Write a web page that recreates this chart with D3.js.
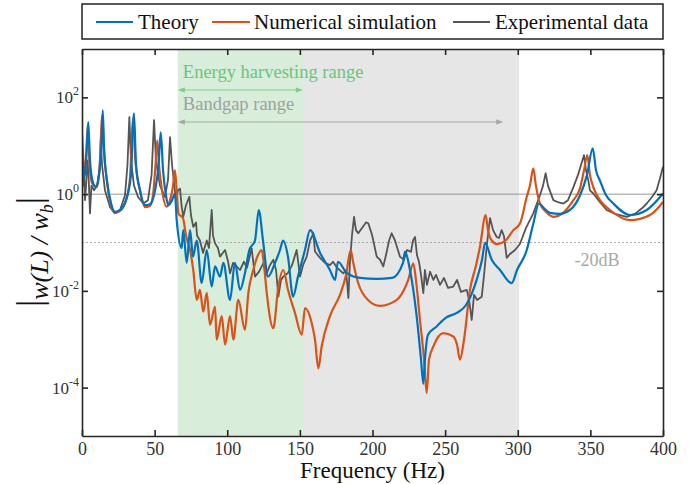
<!DOCTYPE html>
<html><head><meta charset="utf-8">
<script src="https://cdn.jsdelivr.net/npm/d3@7"></script>
<style>
body{margin:0;background:#fff}
svg{display:block}
svg text{font-family:"Liberation Serif","DejaVu Serif","Times New Roman",Times,serif !important}
</style>
</head><body>
<svg id="c" width="699" height="484"></svg>
<script>
// ---------- data ----------
const xTicks = [0, 50, 100, 150, 200, 250, 300, 350, 400];
const yTicks = [1e-4, 1e-2, 1, 1e2];
const yTickExp = ["-4", "-2", "0", "2"];
const seriesNames = ["Theory", "Numerical simulation", "Experimental data"];
const bandgapRange = [66, 301];
const harvestRange = [66, 152];
const bandgapArrow = [66, 290];
const harvestArrow = [66, 152];
const unityLevel = 1;
const minus20dBLevel = 0.1;

const theory = [[0,8.1],[1.7,2.3],[3.4,10],[4.3,31],[5.5,5.0],[7.6,1.7],[9.6,1.4],[11.7,2.5],[13.4,10],[14.3,54],[15.1,10],[17.2,1.9],[20.0,0.65],[22.7,0.43],[26.2,0.47],[30.3,0.75],[33.7,2.5],[35.8,47],[37.2,4.0],[39.9,1.2],[43.4,0.59],[46.8,0.62],[50.3,1.2],[52.7,4.0],[54.2,19],[55.8,3.1],[57.8,0.95],[59.4,0.59],[62.0,0.75],[64.0,1.03],[65.2,0.29],[68.6,0.077],[69.7,0.18],[72.1,0.038],[74.4,0.18],[76.4,0.051],[79.0,0.11],[82.4,0.0146],[85.9,0.070],[89.3,0.0123],[91.6,0.032],[95.0,0.0197],[97.3,0.038],[101.9,0.0065],[105.3,0.038],[108.8,0.0105],[112.2,0.0235],[115.2,0.070],[119.1,0.11],[121.7,0.47],[124.6,0.11],[128.1,0.0197],[132.9,0.038],[136.3,0.070],[138.4,0.11],[141.8,0.051],[145.3,0.0076],[148.7,0.0197],[153.5,0.070],[157.0,0.18],[163.9,0.061],[170.7,0.027],[174.2,0.0169],[176.2,0.040],[182.2,0.0235],[191.4,0.0185],[202.9,0.0177],[213.4,0.0185],[221.0,0.038],[222.4,0.065],[225.8,0.027],[230.4,0.0030],[233.4,3.8e-4],[235.0,1.2e-4],[236.1,3.8e-4],[238.2,1.24e-3],[244.2,1.84e-3],[250.6,2.8e-3],[258.0,3.5e-3],[264.4,5.1e-3],[271.7,0.0169],[275.4,0.044],[277.5,0.098],[282.1,0.044],[287.8,0.027],[295.8,0.0144],[299.5,0.027],[306.2,0.070],[310.5,0.23],[314.6,0.64],[318.1,0.51],[322.2,0.41],[329.1,0.39],[336.0,0.47],[342.9,0.95],[347.7,2.5],[351.6,8.8],[353.9,3.1],[356.6,1.9],[360.8,0.95],[365.8,0.64],[377.3,0.37],[388.8,0.47],[400,1.03]];

const simulation = [[0,18],[1.0,5.0],[2.1,2.7],[4.0,26],[5.2,4.0],[6.9,1.7],[10.1,1.4],[12.0,3.1],[14.0,43],[15.1,8.1],[17.2,1.8],[20.0,0.59],[22.7,0.41],[26.2,0.45],[30.3,0.75],[33.0,2.1],[35.3,37],[36.8,5.0],[39.9,1.2],[43.4,0.54],[46.8,0.57],[48.9,0.95],[50.6,4.0],[51.8,13],[53.0,4.0],[55.1,1.2],[58.3,0.55],[60.6,0.75],[62.7,1.5],[64.0,3.1],[65.4,0.95],[66.3,0.40],[69.5,0.32],[71.6,0.14],[74.4,0.070],[76.6,0.027],[79.0,0.0065],[81.2,0.0105],[83.5,0.0037],[85.9,0.0091],[88.1,0.0020],[91.6,0.0047],[92.7,9.8e-4],[96.2,0.0030],[98.5,7.7e-4],[101.9,0.0030],[104.2,9.8e-4],[107.6,0.0065],[112.2,0.00157],[114.5,0.0090],[117.9,0.027],[121.2,0.055],[123.7,0.070],[125.3,0.034],[127.2,0.0090],[131.7,0.0017],[135.2,0.0123],[138.6,0.027],[141.8,0.0105],[146.6,0.0035],[151.3,0.00124],[153.5,0.0044],[158.1,0.0022],[160.4,9.8e-4],[162.7,2.5e-4],[165.0,7.1e-4],[170.7,0.0030],[177.6,0.0083],[181.8,0.0214],[185.0,0.070],[186.6,0.040],[190.2,0.0144],[196.9,0.0065],[205.2,0.0049],[216.7,0.0065],[221.7,0.0105],[224.6,0.0169],[228.1,0.037],[229.9,0.0169],[232.7,0.0025],[235.5,3.8e-4],[237.3,7.8e-5],[238.9,3.8e-4],[241.9,7.1e-4],[248.7,0.00134],[255.6,0.00114],[258.2,7.7e-4],[260.2,3.8e-4],[263.0,9.8e-4],[267.1,0.0105],[271.3,0.034],[274.0,0.082],[277.9,0.37],[279.5,0.18],[282.1,0.11],[285.7,0.093],[291.2,0.107],[297.0,0.18],[301.6,0.25],[306.2,0.88],[308.4,1.5],[310.7,3.4],[312.5,1.5],[315.3,0.64],[319.4,0.43],[324.5,0.34],[331.2,0.41],[338.3,0.75],[342.9,1.33],[345.6,3.1],[347.9,6.4],[349.7,2.5],[352.0,1.4],[356.6,0.75],[363.5,0.47],[377.3,0.29],[391.1,0.37],[400,0.69]];

const experiment = [[0,3.7],[0.7,1.5],[1.4,2.8],[2.1,0.75],[2.8,1.5],[3.8,5.0],[4.5,2.5],[5.5,0.40],[6.5,1.5],[8.3,1.2],[10.3,1.5],[12.0,3.1],[12.9,13],[13.8,4.0],[15.8,1.2],[19.3,0.54],[22.7,0.40],[26.2,0.47],[29.6,0.95],[31.3,4.0],[32.6,39],[33.7,5.0],[35.8,1.5],[38.6,0.87],[42.2,0.64],[45.4,0.75],[47.9,2.5],[49.6,34],[50.9,5.0],[53.7,1.5],[57.1,0.88],[59.2,1.94],[60.6,15],[62.0,4.0],[62.9,2.3],[64.7,0.75],[66.1,1.2],[67.5,1.3],[68.5,0.59],[69.7,0.34],[71.6,0.59],[73.9,0.88],[75.0,0.37],[76.6,0.21],[78.5,0.26],[79.2,0.14],[81.2,0.11],[83.3,0.061],[85.9,0.11],[87.4,0.077],[89.3,0.47],[90.2,0.14],[91.6,0.096],[93.6,0.077],[95.0,0.051],[98.5,0.070],[100.6,0.040],[101.9,0.023],[104.0,0.038],[106.1,0.033],[108.8,0.027],[111.5,0.040],[113.6,0.030],[116.8,0.076],[119.1,0.0197],[121.9,0.025],[124.8,0.037],[126.7,0.0214],[129.4,0.034],[131.7,0.044],[133.6,0.027],[135.2,0.0076],[137.0,0.0169],[138.6,0.0197],[141.8,0.0235],[144.6,0.034],[147.8,0.070],[150.1,0.0197],[152.2,0.034],[154.7,0.051],[157.0,0.11],[159.3,0.155],[160.4,0.065],[163.9,0.048],[167.3,0.038],[170.7,0.034],[172.8,0.040],[175.6,0.030],[179.9,0.023],[181.8,0.027],[183.4,0.0071],[184.5,0.040],[185.9,0.143],[187.3,0.34],[188.6,0.18],[190.2,0.155],[192.8,0.20],[195.5,0.26],[197.1,0.25],[199.7,0.143],[202.9,0.051],[205.2,0.044],[207.4,0.032],[209.3,0.055],[211.4,0.11],[213.2,0.155],[215.5,0.11],[218.9,0.051],[221.7,0.044],[223.8,0.070],[226.5,0.064],[227.9,0.11],[229.3,0.13],[230.6,0.055],[232.0,0.040],[233.4,0.0214],[235.0,0.0090],[236.1,0.027],[237.5,0.0133],[239.6,0.025],[241.9,0.0169],[243.7,0.0214],[246.5,0.0133],[249.2,0.0185],[252.0,0.0115],[255.6,0.0123],[258.2,0.0169],[260.9,0.0095],[264.9,0.0105],[266.5,0.0065],[268.3,0.0025],[269.9,0.0083],[272.0,0.0065],[275.2,0.0076],[276.8,0.0214],[278.6,0.082],[280.9,0.32],[283.0,0.18],[285.5,0.13],[287.1,0.124],[288.9,0.18],[290.5,0.136],[292.4,0.048],[294.7,0.058],[298.1,0.070],[301.5,0.093],[305.7,0.20],[310.7,0.40],[315.3,0.95],[317.4,1.5],[319.2,2.7],[320.8,1.5],[324.5,0.75],[327.7,0.68],[331.4,0.64],[334.6,0.75],[338.3,1.4],[341.5,2.5],[344.2,4.6],[345.6,6.4],[347.0,3.1],[348.6,1.9],[349.7,1.2],[352.0,1.03],[356.6,0.68],[361.2,0.47],[367.0,0.39],[375.0,0.34],[380.7,0.39],[385.5,0.51],[388.8,0.64],[392.4,0.87],[395.6,1.2],[397.9,2.1],[400,3.7]];

// ---------- drawing ----------
const FONT = '"Liberation Serif","DejaVu Serif","Times New Roman",Times,serif';
const colors = {theory:"#0072BD", sim:"#D95319", exp:"#555555"};
const svg = d3.select("#c").attr("font-family", FONT);
const L = 82, R = 663, T = 49, B = 436;
const x = d3.scaleLinear().domain([0, 400]).range([L, R]);
const y = d3.scaleLog().domain([1e-5, 1e3]).range([B, T]);

svg.append("defs").append("clipPath").attr("id","clip")
  .append("rect").attr("x",L).attr("y",T).attr("width",R-L).attr("height",B-T);

// shaded ranges
svg.append("rect").attr("x",x(bandgapRange[0])).attr("y",T)
  .attr("width",x(bandgapRange[1])-x(bandgapRange[0])).attr("height",B-T).attr("fill","#e6e6e6");
svg.append("rect").attr("x",x(harvestRange[0])).attr("y",T)
  .attr("width",x(harvestRange[1])-x(harvestRange[0])).attr("height",B-T).attr("fill","#d8eedb");

// reference lines
svg.append("line").attr("x1",L).attr("x2",R).attr("y1",y(unityLevel)).attr("y2",y(unityLevel))
  .attr("stroke","#8c8c8c").attr("stroke-opacity",0.6).attr("stroke-width",1.5);
svg.append("line").attr("x1",L).attr("x2",R).attr("y1",y(minus20dBLevel)).attr("y2",y(minus20dBLevel))
  .attr("stroke","#aaaaaa").attr("stroke-width",1).attr("stroke-dasharray","2,2");
svg.append("text").attr("x",597).attr("y",266).attr("text-anchor","middle").attr("font-family",FONT)
  .attr("font-size",18).attr("fill","#a8a8a8").text("-20dB");

// arrows
function dblArrow(f0, f1, yy, col){
  const x0 = x(f0), x1 = x(f1);
  svg.append("line").attr("x1",x0+2).attr("x2",x1-2).attr("y1",yy).attr("y2",yy)
    .attr("stroke",col).attr("stroke-width",1.2);
  svg.append("path").attr("d",`M${x0},${yy} L${x0+7},${yy-2.8} L${x0+7},${yy+2.8} Z`).attr("fill",col);
  svg.append("path").attr("d",`M${x1},${yy} L${x1-7},${yy-2.8} L${x1-7},${yy+2.8} Z`).attr("fill",col);
}
dblArrow(harvestArrow[0], harvestArrow[1], 90, "#7fcf8b");
dblArrow(bandgapArrow[0], bandgapArrow[1], 122, "#a8a8a8");
svg.append("text").attr("x",x(harvestArrow[0])+5).attr("y",78).attr("font-size",18.5).attr("font-family",FONT)
  .attr("fill","#6cc47a").text("Energy harvesting range");
svg.append("text").attr("x",x(bandgapArrow[0])+5).attr("y",110).attr("font-size",18.5).attr("font-family",FONT)
  .attr("fill","#a0a0a0").text("Bandgap range");

// data lines
const lineLin = d3.line().x(d => x(d[0])).y(d => y(d[1]));
const lineSmooth = d3.line().x(d => x(d[0])).y(d => y(d[1])).curve(d3.curveMonotoneX);
const gData = svg.append("g").attr("clip-path","url(#clip)");
gData.append("path").datum(experiment).attr("d",lineLin).attr("fill","none")
  .attr("stroke",colors.exp).attr("stroke-width",1.8).attr("stroke-linejoin","round");
gData.append("path").datum(simulation).attr("d",lineSmooth).attr("fill","none")
  .attr("stroke",colors.sim).attr("stroke-width",2.2).attr("stroke-linejoin","round");
gData.append("path").datum(theory).attr("d",lineSmooth).attr("fill","none")
  .attr("stroke",colors.theory).attr("stroke-width",2.2).attr("stroke-linejoin","round");

// axes
const axCol = "#262626";
const gB = svg.append("g").attr("transform",`translate(0,${B})`)
  .call(d3.axisBottom(x).tickValues(xTicks).tickSizeInner(-6).tickSizeOuter(0).tickPadding(6));
const gT = svg.append("g").attr("transform",`translate(0,${T})`)
  .call(d3.axisTop(x).tickValues(xTicks).tickSizeInner(-6).tickSizeOuter(0).tickFormat(""));
const gL = svg.append("g").attr("transform",`translate(${L},0)`)
  .call(d3.axisLeft(y).tickValues(yTicks).tickSizeInner(-6).tickSizeOuter(0).tickFormat(""));
const gR = svg.append("g").attr("transform",`translate(${R},0)`)
  .call(d3.axisRight(y).tickValues(yTicks).tickSizeInner(-6).tickSizeOuter(0).tickFormat(""));
[gB,gT,gL,gR].forEach(g => {
  g.attr("font-family", FONT);
  g.selectAll("path,line").attr("stroke",axCol).attr("stroke-width",1.6);
  g.selectAll("text").attr("font-family",FONT).attr("font-size",18).attr("fill","#333");
});

// y tick labels (10^n)
yTicks.forEach((t,i) => {
  const tx = svg.append("text").attr("x",79).attr("y",y(t)+6).attr("text-anchor","end")
    .attr("font-family",FONT).attr("font-size",17).attr("fill","#333");
  tx.append("tspan").text("10");
  tx.append("tspan").attr("font-size",12).attr("dy",-8).text(yTickExp[i]);
});

// axis titles
svg.append("text").attr("x",(L+R)/2).attr("y",478).attr("text-anchor","middle").attr("font-family",FONT)
  .attr("font-size",23).attr("fill","#111").text("Frequency (Hz)");
const yl = svg.append("text").attr("transform","translate(48,252) rotate(-90)").attr("font-family",FONT)
  .attr("text-anchor","middle").attr("fill","#111");
yl.append("tspan").attr("font-size",36).attr("dy",-7).text("|");
yl.append("tspan").attr("font-size",26).attr("font-style","italic").attr("dy",7).text("w(L) / w");
yl.append("tspan").attr("font-size",18).attr("font-style","italic").attr("dy",5).text("b");
yl.append("tspan").attr("font-size",36).attr("dy",-12).text("|");

// legend
const lg = svg.append("g");
lg.append("rect").attr("x",82).attr("y",4).attr("width",581).attr("height",35)
  .attr("fill","#fff").attr("stroke","#222").attr("stroke-width",1.5);
const legendItems = [
  {name: seriesNames[0], col: colors.theory, x0: 96, x1: 133, tx: 138},
  {name: seriesNames[1], col: colors.sim, x0: 212, x1: 250, tx: 254},
  {name: seriesNames[2], col: colors.exp, x0: 453, x1: 490, tx: 495}
];
legendItems.forEach(d => {
  lg.append("line").attr("x1",d.x0).attr("x2",d.x1).attr("y1",22).attr("y2",22)
    .attr("stroke",d.col).attr("stroke-width",2);
  lg.append("text").attr("x",d.tx).attr("y",29).attr("font-family",FONT).attr("font-size",21).attr("fill","#111").text(d.name);
});
</script>
</body></html>
